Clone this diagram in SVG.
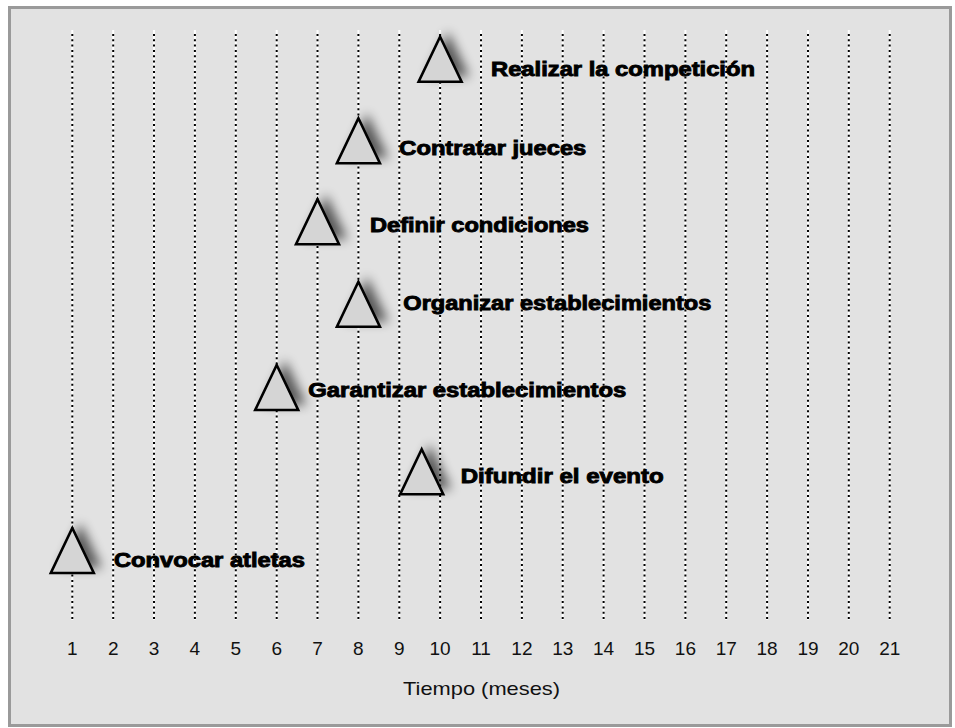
<svg xmlns="http://www.w3.org/2000/svg" width="955" height="728" viewBox="0 0 955 728">
<style>
.gw{stroke:#ffffff;stroke-width:2}
.gd{stroke:#000;stroke-width:2;stroke-dasharray:2 3.3}
.tri{fill:#d5d5d5;stroke:#000;stroke-width:2.6;stroke-linejoin:miter}
.sh{fill:#000;opacity:0.6;filter:url(#blur)}
.lbl{font-family:"Liberation Sans",Arial,sans-serif;font-weight:bold;font-size:19.5px;fill:#000;stroke:#000;stroke-width:0.9}
.num{font-family:"Liberation Sans",Arial,sans-serif;font-size:19px;fill:#111;text-anchor:middle}
.ax{font-family:"Liberation Sans",Arial,sans-serif;font-size:19px;fill:#111}
</style>
<defs>
<filter id="blur" x="-60%" y="-60%" width="220%" height="220%"><feGaussianBlur stdDeviation="5.5"/></filter>
<path id="t" d="M0,0 L21.5,45 L-21.5,45 Z"/>
</defs>
<rect x="0" y="0" width="955" height="728" fill="#fff"/>
<rect x="9.5" y="7.5" width="941" height="718" fill="#e2e2e2" stroke="#9a9a9a" stroke-width="3"/>
<g id="grid">
<g class="gw">
<line x1="72.3" y1="30" x2="72.3" y2="620"/><line x1="113.2" y1="30" x2="113.2" y2="620"/><line x1="154.0" y1="30" x2="154.0" y2="620"/><line x1="194.9" y1="30" x2="194.9" y2="620"/><line x1="235.8" y1="30" x2="235.8" y2="620"/><line x1="276.7" y1="30" x2="276.7" y2="620"/><line x1="317.5" y1="30" x2="317.5" y2="620"/><line x1="358.4" y1="30" x2="358.4" y2="620"/><line x1="399.3" y1="30" x2="399.3" y2="620"/><line x1="440.1" y1="30" x2="440.1" y2="620"/><line x1="481.0" y1="30" x2="481.0" y2="620"/><line x1="521.9" y1="30" x2="521.9" y2="620"/><line x1="562.7" y1="30" x2="562.7" y2="620"/><line x1="603.6" y1="30" x2="603.6" y2="620"/><line x1="644.5" y1="30" x2="644.5" y2="620"/><line x1="685.4" y1="30" x2="685.4" y2="620"/><line x1="726.2" y1="30" x2="726.2" y2="620"/><line x1="767.1" y1="30" x2="767.1" y2="620"/><line x1="808.0" y1="30" x2="808.0" y2="620"/><line x1="848.8" y1="30" x2="848.8" y2="620"/><line x1="889.7" y1="30" x2="889.7" y2="620"/>
</g>
<g class="gd">
<line x1="72.3" y1="34" x2="72.3" y2="619"/><line x1="113.2" y1="34" x2="113.2" y2="619"/><line x1="154.0" y1="34" x2="154.0" y2="619"/><line x1="194.9" y1="34" x2="194.9" y2="619"/><line x1="235.8" y1="34" x2="235.8" y2="619"/><line x1="276.7" y1="34" x2="276.7" y2="619"/><line x1="317.5" y1="34" x2="317.5" y2="619"/><line x1="358.4" y1="34" x2="358.4" y2="619"/><line x1="399.3" y1="34" x2="399.3" y2="619"/><line x1="440.1" y1="34" x2="440.1" y2="619"/><line x1="481.0" y1="34" x2="481.0" y2="619"/><line x1="521.9" y1="34" x2="521.9" y2="619"/><line x1="562.7" y1="34" x2="562.7" y2="619"/><line x1="603.6" y1="34" x2="603.6" y2="619"/><line x1="644.5" y1="34" x2="644.5" y2="619"/><line x1="685.4" y1="34" x2="685.4" y2="619"/><line x1="726.2" y1="34" x2="726.2" y2="619"/><line x1="767.1" y1="34" x2="767.1" y2="619"/><line x1="808.0" y1="34" x2="808.0" y2="619"/><line x1="848.8" y1="34" x2="848.8" y2="619"/><line x1="889.7" y1="34" x2="889.7" y2="619"/>
</g>
</g>
<g id="axis">
<text class="num" x="72.3" y="655">1</text><text class="num" x="113.2" y="655">2</text><text class="num" x="154.0" y="655">3</text><text class="num" x="194.9" y="655">4</text><text class="num" x="235.8" y="655">5</text><text class="num" x="276.7" y="655">6</text><text class="num" x="317.5" y="655">7</text><text class="num" x="358.4" y="655">8</text><text class="num" x="399.3" y="655">9</text><text class="num" x="440.1" y="655">10</text><text class="num" x="481.0" y="655">11</text><text class="num" x="521.9" y="655">12</text><text class="num" x="562.7" y="655">13</text><text class="num" x="603.6" y="655">14</text><text class="num" x="644.5" y="655">15</text><text class="num" x="685.4" y="655">16</text><text class="num" x="726.2" y="655">17</text><text class="num" x="767.1" y="655">18</text><text class="num" x="808.0" y="655">19</text><text class="num" x="848.8" y="655">20</text><text class="num" x="889.7" y="655">21</text>
<text class="ax" x="403" y="695" textLength="157" lengthAdjust="spacingAndGlyphs">Tiempo (meses)</text>
</g>
<g id="connectors"></g>
<g id="n-realizar">
<use href="#t" class="sh" x="448" y="31.7"/>
<use href="#t" class="tri" x="440.1" y="36.7"/>
<text class="lbl" x="491" y="76" textLength="264" lengthAdjust="spacingAndGlyphs">Realizar la competición</text>
</g>
<g id="n-contratar">
<use href="#t" class="sh" x="367" y="113.3"/>
<use href="#t" class="tri" x="358.4" y="118.3"/>
<text class="lbl" x="399.3" y="154.5" textLength="187" lengthAdjust="spacingAndGlyphs">Contratar jueces</text>
</g>
<g id="n-definir">
<use href="#t" class="sh" x="326" y="194.3"/>
<use href="#t" class="tri" x="317.5" y="199.3"/>
<text class="lbl" x="370" y="231.5" textLength="219" lengthAdjust="spacingAndGlyphs">Definir condiciones</text>
</g>
<g id="n-organizar">
<use href="#t" class="sh" x="367" y="276.7"/>
<use href="#t" class="tri" x="358.4" y="281.7"/>
<text class="lbl" x="403.3" y="310" textLength="308" lengthAdjust="spacingAndGlyphs">Organizar establecimientos</text>
</g>
<g id="n-garantizar">
<use href="#t" class="sh" x="285" y="360"/>
<use href="#t" class="tri" x="276.7" y="365"/>
<text class="lbl" x="308.3" y="396.5" textLength="318" lengthAdjust="spacingAndGlyphs">Garantizar establecimientos</text>
</g>
<g id="n-difundir">
<use href="#t" class="sh" x="430" y="444.3"/>
<use href="#t" class="tri" x="421.7" y="449.3"/>
<text class="lbl" x="460.7" y="482.7" textLength="203" lengthAdjust="spacingAndGlyphs">Difundir el evento</text>
</g>
<g id="n-convocar">
<use href="#t" class="sh" x="80.5" y="523"/>
<use href="#t" class="tri" x="72.3" y="528"/>
<text class="lbl" x="114" y="566.7" textLength="191" lengthAdjust="spacingAndGlyphs">Convocar atletas</text>
</g>
</svg>
